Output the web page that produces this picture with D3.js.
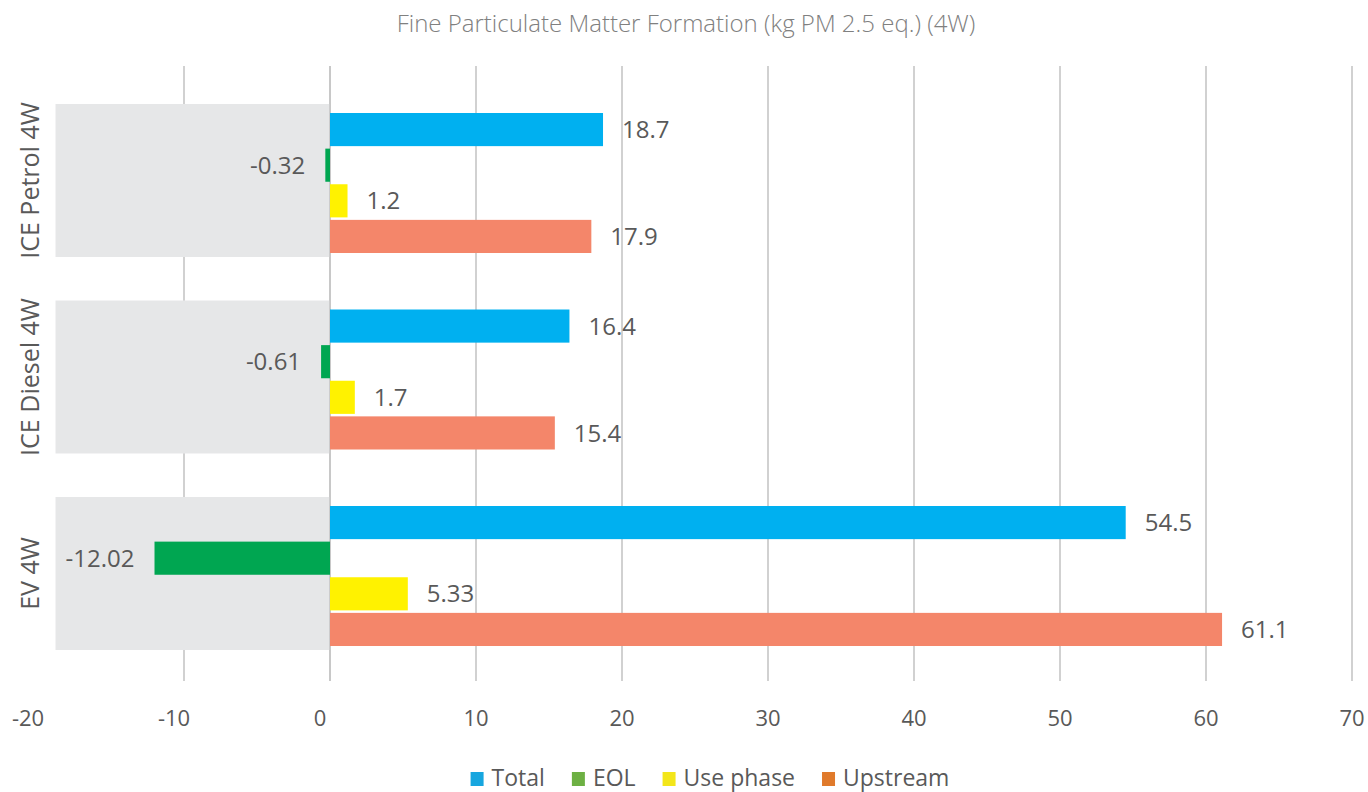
<!DOCTYPE html>
<html>
<head>
<meta charset="utf-8">
<script src="https://cdn.jsdelivr.net/npm/d3@7"></script>
<style>
  html, body { margin: 0; padding: 0; background: #fff; }
  svg { display: block; }
  text { font-family: "Open Sans", "Noto Sans", sans-serif; }
</style>
</head>
<body>
<svg id="chart" width="1368" height="792"></svg>
<script>
const title = "Fine Particulate Matter Formation (kg PM 2.5 eq.) (4W)";
const categories = ["ICE Petrol 4W", "ICE Diesel 4W", "EV 4W"];
const seriesNames = ["Total", "EOL", "Use phase", "Upstream"];
const totalValues = [18.7, 16.4, 54.5];
const eolValues = [-0.32, -0.61, -12.02];
const usePhaseValues = [1.2, 1.7, 5.33];
const upstreamValues = [17.9, 15.4, 61.1];
const xTicks = [-20, -10, 0, 10, 20, 30, 40, 50, 60, 70];
const backdropStart = -18.8;

const barColors = ["#00b0f0", "#00a651", "#fff200", "#f4866a"];
const legendColors = ["#17a6df", "#6db043", "#f3e61a", "#e07a2b"];
const seriesValues = [totalValues, eolValues, usePhaseValues, upstreamValues];

const svg = d3.select("#chart");

const x = d3.scaleLinear().domain([-20, 70]).range([38, 1352]);
const y0 = d3.scaleBand().domain(categories).range([82.25, 671.75]).paddingInner(0.2214).paddingOuter(0.1107);
const y1 = d3.scaleBand().domain(seriesNames).range([9, 149]).paddingInner(0.07).paddingOuter(0);

// Title
svg.append("text")
  .attr("x", 686).attr("y", 32)
  .attr("text-anchor", "middle")
  .attr("font-size", 24)
  .attr("font-weight", 300)
  .attr("fill", "#808080")
  .text(title);

// Gridlines
const gridTop = 66, gridBottom = 681;
svg.append("g").selectAll("line")
  .data(xTicks.filter(d => d !== -20))
  .join("line")
  .attr("x1", d => x(d)).attr("x2", d => x(d))
  .attr("y1", gridTop).attr("y2", gridBottom)
  .attr("stroke", "#c6c6c6").attr("stroke-width", 1.6);

// Backdrops (gray panels behind category area)
svg.append("g").selectAll("rect")
  .data(categories)
  .join("rect")
  .attr("x", x(backdropStart))
  .attr("width", x(0) - x(backdropStart))
  .attr("y", d => y0(d))
  .attr("height", y0.bandwidth())
  .attr("fill", "#e6e7e8");

// Zero line
svg.append("line")
  .attr("x1", x(0)).attr("x2", x(0))
  .attr("y1", gridTop).attr("y2", gridBottom)
  .attr("stroke", "#c6c6c6").attr("stroke-width", 1.6);

// Bars
const rows = [];
categories.forEach((c, ci) => {
  seriesNames.forEach((s, si) => {
    rows.push({ cat: c, series: s, si, value: seriesValues[si][ci] });
  });
});

const gBars = svg.append("g");
gBars.selectAll("rect")
  .data(rows)
  .join("rect")
  .attr("x", d => x(Math.min(0, d.value)))
  .attr("width", d => Math.abs(x(d.value) - x(0)))
  .attr("y", d => y0(d.cat) + y1(d.series))
  .attr("height", y1.bandwidth())
  .attr("fill", d => barColors[d.si]);

// Value labels
gBars.selectAll("text")
  .data(rows)
  .join("text")
  .attr("x", d => d.value < 0 ? x(d.value) - 20 : x(d.value) + 19)
  .attr("y", d => y0(d.cat) + y1(d.series) + y1.bandwidth() / 2)
  .attr("dy", "0.36em")
  .attr("text-anchor", d => d.value < 0 ? "end" : "start")
  .attr("font-size", 24)
  .attr("fill", "#595959")
  .text(d => String(d.value));

// Category labels (rotated)
svg.append("g").selectAll("text")
  .data(categories)
  .join("text")
  .attr("transform", d => `translate(39, ${y0(d) + y0.bandwidth() / 2}) rotate(-90)`)
  .attr("text-anchor", "middle")
  .attr("font-size", 25)
  .attr("fill", "#595959")
  .text(d => d);

// X axis labels
svg.append("g").selectAll("text")
  .data(xTicks)
  .join("text")
  .attr("x", d => x(d) - (d <= 0 ? 10 : 0))
  .attr("y", 726)
  .attr("text-anchor", "middle")
  .attr("font-size", 22)
  .attr("fill", "#595959")
  .text(d => d);

// Legend
const legend = svg.append("g");
const items = legend.selectAll("g").data(seriesNames).join("g");
items.append("rect")
  .attr("width", 13).attr("height", 14)
  .attr("y", 772)
  .attr("fill", (d, i) => legendColors[i]);
items.append("text")
  .attr("x", 21).attr("y", 786)
  .attr("font-size", 23)
  .attr("fill", "#595959")
  .text(d => d);
let widths = [];
items.each(function () {
  widths.push(this.getBBox().width);
});
const gap = 27;
const totalW = d3.sum(widths) + gap * (widths.length - 1);
let cx = 710 - totalW / 2;
items.attr("transform", (d, i) => {
  const t = `translate(${cx},0)`;
  cx += widths[i] + gap;
  return t;
});
</script>
</body>
</html>
